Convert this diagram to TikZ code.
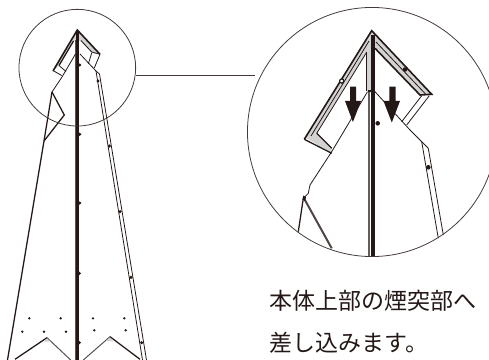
\documentclass[tikz,border=0pt]{standalone}
\usepackage{fontspec}
\newfontfamily\cjk{Noto Sans CJK JP}
\definecolor{ink}{HTML}{231815}
\definecolor{band}{HTML}{D3D3D3}
\tikzset{
  px/.style={x=0.75pt,y=-0.75pt},
  thinl/.style={draw=ink,line width=0.6pt,line join=miter},
  midl/.style={draw=ink,line width=0.95pt,line join=miter},
  heavyl/.style={draw=ink,line width=1.2pt,line join=miter},
  greyl/.style={draw=ink!75,line width=0.75pt},
  ring/.style={draw=ink!85,line width=0.6pt},
  dotm/.style={fill=ink,draw=none},
  label/.style={anchor=west,inner sep=0pt,text=ink,font=\cjk\fontsize{17.25pt}{20pt}\selectfont},
  bigarrow/.style={fill=ink,draw=none}
}
\begin{document}
\begin{tikzpicture}[px]
\useasboundingbox (0,0) rectangle (489,360);
% ---- small view ----
% roof
\fill[band] (77.3,30) -- (53,71) -- (59,65.5) -- (73.5,41) -- (80,41) -- (92,53) -- (100,54.3) -- cycle;
\draw[heavyl] (53,71) -- (77.3,30) -- (100,54.3);
\draw[midl] (59,65.5) -- (73.5,41);
\draw[thinl] (81,40.5) -- (91.7,52) -- (100,54.3);
% brackets
\draw[thinl] (53,70.5) -- (61.7,75.5) (59,65.5) -- (66,71.5);
\draw[thinl] (100,54.3) -- (94.3,68) (91.7,53) -- (88.3,64);
% post
\draw[greyl] (75.4,40) -- (75.4,360);
\fill[ink] (76.4,31) rectangle (79.4,360);
% body left
\draw[thinl] (75.5,54) -- (62,77) -- (52,92);
\draw[midl] (52,92) -- (64.3,115) -- (44,141);
\draw[midl] (52,92) -- (44,141) -- (7.5,360);
% body right
\draw[thinl] (80,54) -- (96,71) -- (99.5,74);
\draw[thinl] (96,71) -- (142.5,360) (99.5,74) -- (146.5,360);
% chevrons
\draw[midl] (15,359.3) -- (47,337.7);
\draw[greyl] (47,337.7) -- (70.7,360);
\draw[greyl] (83.3,360) -- (110,336.7);
\draw[midl] (110,336.7) -- (140,359.3);
\fill[band] (47,338.5) -- (43.5,341.5) -- (50.5,341.5) -- cycle;
\fill[band] (110,337.5) -- (106,341) -- (114,341) -- cycle;
% dots
\foreach \x/\y in {98/81,79.7/65,79.7/134.3,79.7/203,79.3/273.3,79.3/342.7,109.3/146,120/211.7,131/277.3,141.7/342.7}
  \fill[dotm] (\x,\y) circle (1.7);
\foreach \x/\y in {29.3/318.3,60.7/318.3,22.3/331.7,44/331.7,66/331.7,93/318.3,124.3/318.3,94.3/330.3,125.7/330.3}
  \fill[dotm] (\x,\y) circle (1.3);
% ---- big view ----
% roof bands
\fill[band] (371.7,30.7) -- (304.3,139.3) -- (306.7,138.3) -- (331.7,153.3) -- (331.7,148.3) -- (316.7,133.3) -- (366,52.5) -- (366,91) -- (371,91) -- (371,40) -- (374.5,40) -- (375,48.3) -- (420,95) -- (431.7,94.3) -- cycle;
\draw[heavyl] (304.3,139.3) -- (371.7,30.7) -- (431.7,94.3) -- (420,95) -- (375,48.3);
\draw[thinl] (316.7,133.3) -- (366.5,52.5);
\draw[thinl] (311,136) -- (369,41);
\draw[thinl] (376,42) -- (426,94.5);
% brackets
\draw[midl] (304.3,139.3) -- (331.7,153.3);
\draw[midl] (316.7,133.3) -- (331.7,148.3);
\draw[thinl] (429.3,95.7) -- (406.7,125) (421.7,95.7) -- (401.7,121.7);
% post
\draw[thinl] (366.5,52) -- (366.5,91);
\draw[draw=ink!70,line width=1pt] (369,91) -- (369,256);
\fill[ink] (370.8,35) rectangle (375,256);
% body
\draw[thinl] (367.5,91.7) -- (331.7,151.7) -- (310,185) -- (308.3,193.3) -- (303.3,198.3);
\draw[midl] (303.3,198.3) -- (298.3,231.7);
\draw[draw=ink!80,line width=1.5pt] (304,198.3) -- (331.7,248.3);
\fill[ink] (303.3,195.5) -- (306,197) -- (305,201) -- (302.5,199.5) -- cycle;
\draw[thinl] (375,91.7) -- (410,130) -- (421.7,141.7) -- (428.3,148.3);
\draw[thinl] (421.7,141.7) -- (438.3,238.3) (428.3,148.3) -- (443.3,235);
\fill[ink] (367.5,90) rectangle (375,92);
% dots
\foreach \x/\y in {428.3/167.3,377.7/123.3,405/69.5}
  \fill[dotm] (\x,\y) circle (2.3);
\draw[midl,fill=white] (341.7,81) circle (2.1);
% arrows
\fill[bigarrow] (350,86.7) rectangle (356,101) (345,101) -- (361,101) -- (352.9,122) -- cycle;
\fill[bigarrow] (389.3,86.7) rectangle (395.5,101) (383.5,101) -- (400,101) -- (391.8,122.5) -- cycle;
% ---- rings and leader ----
\node[ring,circle,minimum size=87.5pt,inner sep=0pt] (small) at (77.3,67.7) {};
\node[ring,circle,minimum size=186.8pt,inner sep=0pt] (big) at (372,132) {};
\coordinate (leadA) at (136,75);
\coordinate (leadB) at (255,75);
\draw[ring] (leadA) -- (leadB);
% ---- text ----
\node[label] (l1) at (269.5,300.7) {本体上部の煙突部へ};
\node[label] (l2) at (269.5,342.7) {差し込みます。};
\end{tikzpicture}
\end{document}
